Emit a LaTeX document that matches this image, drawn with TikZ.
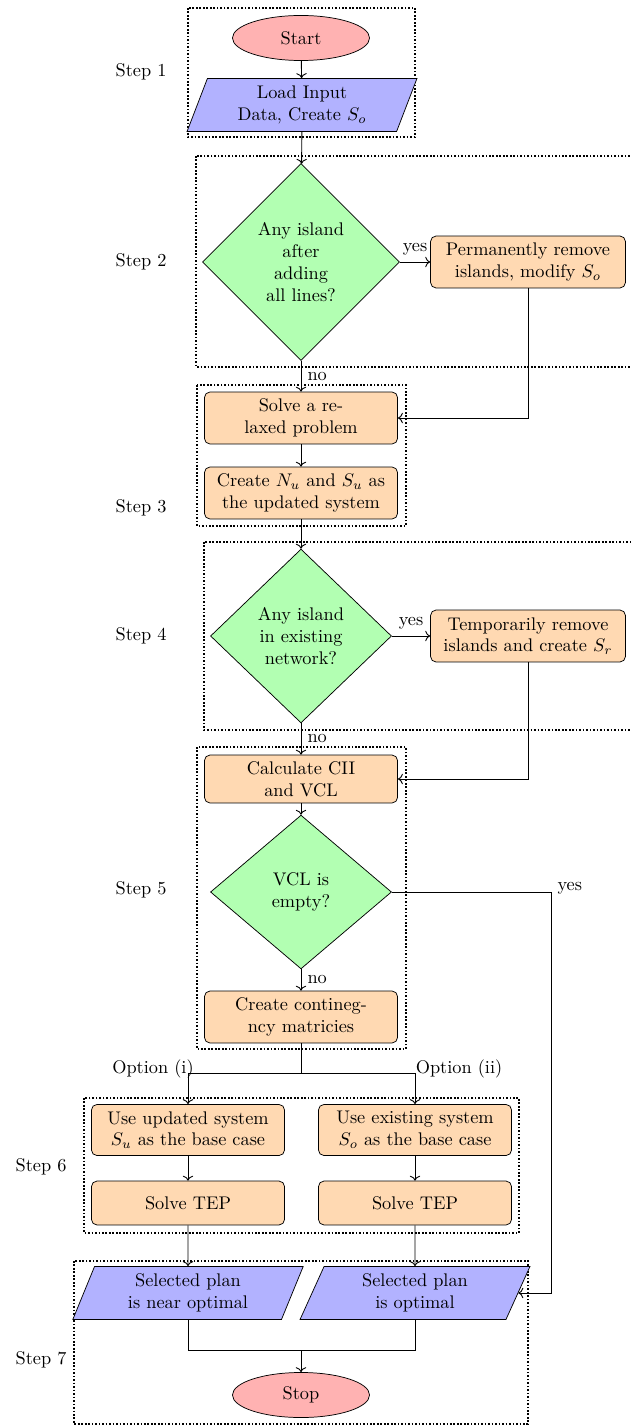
\documentclass[tikz,border=0pt]{standalone}
\usetikzlibrary{shapes.geometric,arrows.meta}
\begin{document}
\begin{tikzpicture}[x=0.5464pt,y=-0.5464pt,
  startstop/.style={ellipse, draw, fill=red!30, minimum width=74.9pt, minimum height=24.6pt, inner sep=0pt},
  io/.style={trapezium, trapezium left angle=70, trapezium right angle=110, trapezium stretches=true, draw, fill=blue!30, minimum width=126.5pt, minimum height=29pt, align=center, inner sep=0pt},
  process/.style={rectangle, rounded corners=3pt, draw, fill=orange!30, minimum width=105.5pt, minimum height=28.4pt, align=center, inner sep=0pt},
  decision/.style={diamond, draw, fill=green!30, align=center, inner sep=0pt},
  conn/.style={line width=0.5pt, ->},
  line/.style={line width=0.5pt},
  grp/.style={line width=0.9pt, densely dotted}]
\useasboundingbox (0,0) rectangle (630,1427);
% group boxes
\draw[grp] (188,8) rectangle (415,137);
\draw[grp] (196,156) rectangle (640,367);
\draw[grp] (197,385) rectangle (406,526);
\draw[grp] (204,542) rectangle (640,730);
\draw[grp] (197,747) rectangle (406,1049);
\draw[grp] (84,1098) rectangle (519,1233);
\draw[grp] (74,1261) rectangle (528,1424);
% nodes
\node[startstop] (start) at (301,38) {Start};
\node[io] (load) at (302,105) {Load Input\\Data, Create $S_o$};
\node[decision, minimum width=107.6pt, minimum height=107.6pt] (dia1) at (301,262) {Any island\\after\\adding\\all lines?};
\node[process, minimum width=106.5pt] (perm) at (528,262) {Permanently remove\\islands, modify $S_o$};
\node[process] (solve) at (301,418) {Solve a re-\\laxed problem};
\node[process] (upd) at (301,493) {Create $N_u$ and $S_u$ as\\the updated system};
\node[decision, minimum width=98.9pt, minimum height=95pt] (dia2) at (301,636) {Any island\\in existing\\network?};
\node[process, minimum width=106.5pt] (temp) at (528,636) {Temporarily remove\\islands and create $S_r$};
\node[process, minimum height=26.2pt] (calc) at (301,779) {Calculate CII\\and VCL};
\node[decision, minimum width=98.9pt, minimum height=84pt] (dia3) at (301,892) {VCL is\\empty?};
\node[process] (cont) at (301,1017) {Create contineg-\\ncy matricies};
\node[process, minimum height=27.9pt] (use1) at (188,1130) {Use updated system\\$S_u$ as the base case};
\node[process, minimum height=27.9pt] (use2) at (415,1130) {Use existing system\\$S_o$ as the base case};
\node[process, minimum height=24pt] (tep1) at (188,1203) {Solve TEP};
\node[process, minimum height=24pt] (tep2) at (415,1203) {Solve TEP};
\node[io] (sel1) at (188,1293) {Selected plan\\is near optimal};
\node[io] (sel2) at (415,1293) {Selected plan\\is optimal};
\node[startstop] (stop) at (301,1395) {Stop};
% step labels
\node (s1) at (141,72) {Step 1};
\node (s2) at (141,262) {Step 2};
\node (s3) at (141,508) {Step 3};
\node (s4) at (141,636) {Step 4};
\node (s5) at (141,890) {Step 5};
\node (s6) at (41,1167) {Step 6};
\node (s7) at (41,1360) {Step 7};
% connectors
\draw[conn] (start) -- (load);
\draw[conn] (load) -- (dia1);
\draw[conn] (dia1.east) -- node[above]{yes} (perm.west);
\draw[conn] (perm.south) |- (solve.east);
\draw[conn] (dia1.south) -- node[right]{no} (solve.north);
\draw[conn] (solve) -- (upd);
\draw[conn] (upd) -- (dia2);
\draw[conn] (dia2.east) -- node[above]{yes} (temp.west);
\draw[conn] (temp.south) |- (calc.east);
\draw[conn] (dia2.south) -- node[right]{no} (calc.north);
\draw[conn] (calc) -- (dia3);
\draw[conn] (dia3.south) -- node[right]{no} (cont.north);
\coordinate (yc) at (551,892);
\draw[conn] (dia3.east) -- (yc) node[right, yshift=2pt]{yes} |- (sel2.east);
\coordinate (br) at (301,1073);
\draw[line] (cont.south) -- (br);
\draw[conn] (br) -| (use1.north);
\draw[conn] (br) -| (use2.north);
\node (opt1) at (153,1069) {Option (i)};
\node (opt2) at (459,1069) {Option (ii)};
\draw[conn] (use1) -- (tep1);
\draw[conn] (use2) -- (tep2);
\draw[conn] (tep1) -- (sel1);
\draw[conn] (tep2) -- (sel2);
\coordinate (jn) at (301,1350);
\draw[line] (sel1.south) |- (jn);
\draw[line] (sel2.south) |- (jn);
\draw[conn] (jn) -- (stop.north);
\end{tikzpicture}
\end{document}
